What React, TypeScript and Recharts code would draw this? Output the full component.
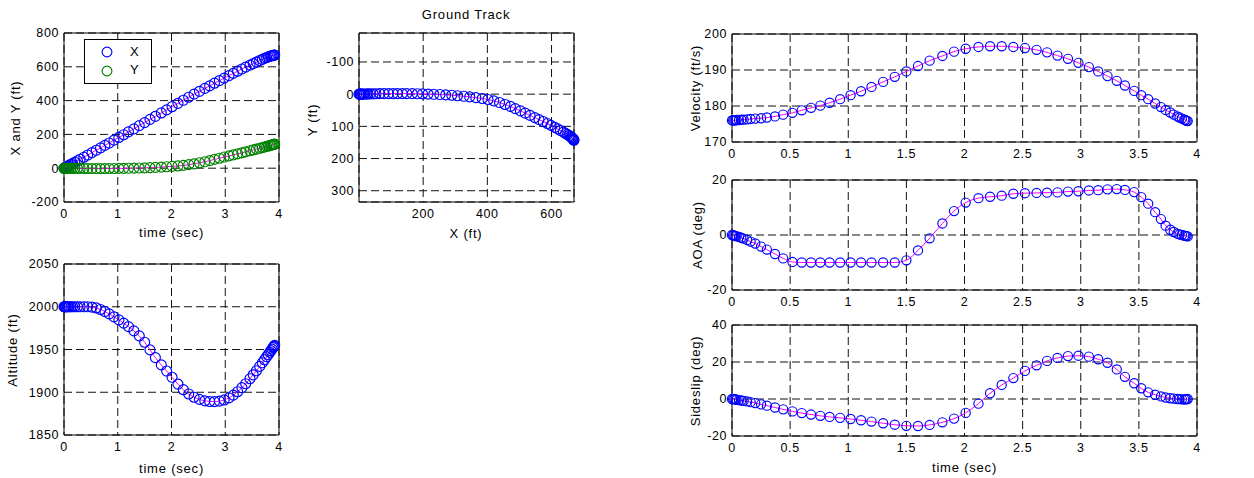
import React from 'react';
import { LineChart, Line, XAxis, YAxis, CartesianGrid, ReferenceArea } from 'recharts';

const TIME = [0, 0.01, 0.02, 0.03, 0.04, 0.06, 0.08, 0.1, 0.13, 0.16, 0.2, 0.25, 0.3, 0.37, 0.44, 0.52, 0.6, 0.68, 0.76, 0.84, 0.93, 1.02, 1.11, 1.2, 1.3, 1.4, 1.5, 1.6, 1.7, 1.81, 1.91, 2.01, 2.12, 2.22, 2.32, 2.42, 2.52, 2.62, 2.71, 2.8, 2.89, 2.98, 3.07, 3.15, 3.23, 3.31, 3.38, 3.46, 3.52, 3.58, 3.64, 3.69, 3.73, 3.77, 3.8, 3.83, 3.85, 3.87, 3.89, 3.9, 3.91, 3.92];

const X_POS = [0, 1.8, 3.5, 5.3, 7, 10.6, 14, 17.6, 23, 28, 35, 44, 53, 65, 78, 92, 106, 120, 135, 149, 166, 182, 198, 215, 233, 252, 270, 289, 307, 327, 345, 364, 384, 402, 420, 438, 455, 472, 487, 503, 518, 533, 548, 561, 574, 587, 598, 610, 619, 628, 637, 644, 650, 655, 659, 662, 664, 666, 667.5, 668.5, 669.3, 670];

const Y_POS = [0, 0, 0, 0, -0.1, -0.2, -0.3, -0.4, -0.5, -0.7, -0.9, -1.1, -1.3, -1.5, -1.7, -1.8, -1.9, -1.9, -1.8, -1.7, -1.5, -1.2, -0.8, -0.3, 0.3, 1.1, 2.1, 3.3, 4.8, 6.6, 8.6, 10.8, 13.4, 16.5, 21, 26, 32, 38, 45, 52, 59, 66, 73, 79, 85, 91, 97, 103, 108, 113, 118, 122, 125.5, 129, 131.5, 134, 136, 138, 140, 141, 142, 143];

const ALTITUDE = [2000, 2000, 2000, 2000, 2000, 2000, 2000, 2000, 2000, 2000, 2000, 2000, 2000, 2000, 2000, 1999.6, 1998.6, 1996.8, 1994.4, 1991.6, 1988.2, 1984.6, 1980.8, 1976.8, 1971.8, 1966, 1958.5, 1949.5, 1940.5, 1932, 1924.8, 1917.5, 1909.5, 1903, 1898, 1894.2, 1891.6, 1890, 1889.2, 1889, 1889.6, 1891, 1893.4, 1896.6, 1900.6, 1905.4, 1910, 1915.8, 1920.4, 1925.2, 1930.2, 1934.5, 1938, 1941.5, 1944.1, 1946.8, 1948.6, 1950.4, 1952.2, 1953.1, 1954, 1954.9];

const VELOCITY = [176, 176, 176, 176, 176.1, 176.1, 176.2, 176.2, 176.3, 176.4, 176.5, 176.6, 176.8, 177.1, 177.6, 178.1, 178.8, 179.5, 180.1, 180.9, 181.9, 183, 184.1, 185.3, 186.7, 188.1, 189.6, 191.1, 192.6, 193.9, 195.1, 195.9, 196.4, 196.6, 196.6, 196.4, 196.1, 195.6, 194.9, 194, 193.1, 192, 190.8, 189.6, 188.3, 187, 185.7, 184.2, 183, 181.9, 180.7, 179.7, 178.9, 178.2, 177.6, 177.1, 176.8, 176.5, 176.2, 176.1, 175.9, 175.8];

const AOA = [0, -0.1, -0.2, -0.3, -0.5, -0.7, -1, -1.3, -1.8, -2.4, -3.1, -4.2, -5.3, -6.9, -8.5, -9.8, -10, -10, -10, -10, -10, -10, -10, -10, -10, -10, -9.2, -5.6, -1.2, 4.2, 8.7, 11.8, 13.4, 13.9, 14.3, 15, 15.2, 15.3, 15.4, 15.5, 15.8, 15.9, 16.2, 16.3, 16.6, 16.7, 16.4, 15.6, 13.8, 11.4, 8.3, 5.8, 3.4, 1.9, 1.1, 0.5, 0.2, 0, -0.2, -0.3, -0.4, -0.5];

const SIDESLIP = [0, 0, -0.1, -0.2, -0.4, -0.6, -0.8, -1, -1.3, -1.7, -2.2, -2.9, -3.6, -4.6, -5.6, -6.7, -7.6, -8.4, -9.1, -9.7, -10.2, -10.8, -11.5, -12.2, -13.1, -13.9, -14.5, -14.6, -14, -12.6, -10.6, -7.5, -2.5, 3.1, 7.6, 11.3, 15.2, 18.2, 20.6, 22.2, 23.2, 23.4, 22.9, 21.5, 19.6, 16, 12, 8.5, 5.8, 3.6, 2.3, 1.4, 0.8, 0.4, 0.2, 0, -0.1, -0.2, -0.2, -0.2, -0.1, 0];

const TICKS_T1 = [0, 1, 2, 3, 4];
const TICKS_T05 = [0, 0.5, 1, 1.5, 2, 2.5, 3, 3.5, 4];
const TICKS_XY = [-200, 0, 200, 400, 600, 800];
const TICKS_GX = [200, 400, 600];
const TICKS_GY = [-100, 0, 100, 200, 300];
const TICKS_ALT = [1850, 1900, 1950, 2000, 2050];
const TICKS_VEL = [170, 180, 190, 200];
const TICKS_AOA = [-20, 0, 20];
const TICKS_SS = [-20, 0, 20, 40];

const rows = TIME.map((t, i) => ({
  t,
  x: X_POS[i],
  y: Y_POS[i],
  alt: ALTITUDE[i],
  vel: VELOCITY[i],
  aoa: AOA[i],
  beta: SIDESLIP[i],
}));

const FONT = '"Liberation Sans", Arial, Helvetica, sans-serif';
const BLUE = '#0000ff';
const GREEN = '#008000';
const MAGENTA = '#ff00ff';

type Box = { x: number; y: number; w: number; h: number };
type Series = { key: string; color: string };

function Panel(props: {
  box: Box;
  xKey: string;
  xDomain: [number, number];
  xTicks: number[];
  yDomain: [number, number];
  yTicks: number[];
  reversed?: boolean;
  series: Series[];
  r: number;
}) {
  const { box, xKey, xDomain, xTicks, yDomain, yTicks, reversed, series, r } = props;
  const ML = 50, MT = 8, MR = 8, MB = 24;
  const tickStyle = { fontSize: 12.5, fill: '#000', fontFamily: FONT, letterSpacing: 0.6 };
  return (
    <div style={{ position: 'absolute', left: box.x - ML, top: box.y - MT }}>
      <LineChart
        width={box.w + ML + MR}
        height={box.h + MT + MB}
        data={rows}
        margin={{ top: MT, right: MR, bottom: 0, left: 0 }}
        style={{ overflow: 'visible' }}
      >
        <CartesianGrid stroke="#111" strokeDasharray="8 4" />
        <XAxis
          type="number"
          dataKey={xKey}
          domain={xDomain}
          ticks={xTicks}
          interval={0}
          axisLine={false}
          tickLine={false}
          tickSize={0}
          tickMargin={7}
          height={MB}
          tick={tickStyle}
        />
        <YAxis
          type="number"
          domain={yDomain}
          ticks={yTicks}
          interval={0}
          reversed={reversed}
          axisLine={false}
          tickLine={false}
          tickSize={0}
          tickMargin={5}
          width={ML}
          tick={tickStyle}
        />
        {series.map((s) => (
          <Line
            key={'c' + s.key}
            dataKey={s.key}
            stroke="none"
            dot={{ r, stroke: s.color, strokeWidth: 1.15, fill: 'none' }}
            activeDot={false}
            isAnimationActive={false}
          />
        ))}
        {series.map((s) => (
          <Line
            key={'l' + s.key}
            dataKey={s.key}
            type="monotone"
            stroke={MAGENTA}
            strokeWidth={1}
            dot={false}
            activeDot={false}
            isAnimationActive={false}
          />
        ))}
        <ReferenceArea
          x1={xDomain[0]}
          x2={xDomain[1]}
          y1={yDomain[0]}
          y2={yDomain[1]}
          fill="none"
          fillOpacity={0}
          stroke="#000"
          strokeWidth={1}
          ifOverflow="visible"
        />
      </LineChart>
    </div>
  );
}

function Txt(props: { x: number; y: number; rot?: number; children: React.ReactNode; size?: number }) {
  return (
    <div
      style={{
        position: 'absolute',
        left: props.x,
        top: props.y,
        transform: `translate(-50%, -50%) rotate(${props.rot || 0}deg)`,
        whiteSpace: 'nowrap',
        fontSize: props.size || 13,
        letterSpacing: 0.8,
        lineHeight: 1,
        fontFamily: FONT,
        color: '#000',
      }}
    >
      {props.children}
    </div>
  );
}

function LegendBox() {
  return (
    <svg style={{ position: 'absolute', left: 84, top: 39 }} width={69} height={46}>
      <rect x={0.5} y={0.5} width={67} height={44} fill="#fff" stroke="#000" strokeWidth={1} />
      <circle cx={23} cy={13} r={4.9} fill="none" stroke={BLUE} strokeWidth={1.15} />
      <text x={46} y={17} fontSize={13} fontFamily={FONT} fill="#000">X</text>
      <circle cx={23} cy={32} r={4.9} fill="none" stroke={GREEN} strokeWidth={1.15} />
      <text x={46} y={35} fontSize={13} fontFamily={FONT} fill="#000">Y</text>
    </svg>
  );
}

export default function App() {
  return (
    <div
      style={{
        position: 'absolute',
        left: 0,
        top: 0,
        width: 1254,
        height: 478,
        background: '#fff',
        overflow: 'hidden',
        fontFamily: FONT,
      }}
    >
      <Panel
        box={{ x: 64, y: 33, w: 215, h: 169 }}
        xKey="t"
        xDomain={[0, 4]}
        xTicks={TICKS_T1}
        yDomain={[-200, 800]}
        yTicks={TICKS_XY}
        series={[{ key: 'x', color: BLUE }, { key: 'y', color: GREEN }]}
        r={5}
      />
      <Panel
        box={{ x: 359, y: 33, w: 215, h: 169 }}
        xKey="x"
        xDomain={[0, 670]}
        xTicks={TICKS_GX}
        yDomain={[-190, 335]}
        yTicks={TICKS_GY}
        reversed
        series={[{ key: 'y', color: BLUE }]}
        r={5}
      />
      <Panel
        box={{ x: 64, y: 264, w: 215, h: 171 }}
        xKey="t"
        xDomain={[0, 4]}
        xTicks={TICKS_T1}
        yDomain={[1850, 2050]}
        yTicks={TICKS_ALT}
        series={[{ key: 'alt', color: BLUE }]}
        r={5}
      />
      <Panel
        box={{ x: 732, y: 34, w: 465, h: 108 }}
        xKey="t"
        xDomain={[0, 4]}
        xTicks={TICKS_T05}
        yDomain={[170, 200]}
        yTicks={TICKS_VEL}
        series={[{ key: 'vel', color: BLUE }]}
        r={4.6}
      />
      <Panel
        box={{ x: 732, y: 180, w: 465, h: 110 }}
        xKey="t"
        xDomain={[0, 4]}
        xTicks={TICKS_T05}
        yDomain={[-20, 20]}
        yTicks={TICKS_AOA}
        series={[{ key: 'aoa', color: BLUE }]}
        r={4.6}
      />
      <Panel
        box={{ x: 732, y: 325, w: 465, h: 111 }}
        xKey="t"
        xDomain={[0, 4]}
        xTicks={TICKS_T05}
        yDomain={[-20, 40]}
        yTicks={TICKS_SS}
        series={[{ key: 'beta', color: BLUE }]}
        r={4.6}
      />
      <LegendBox />
      <Txt x={15} y={117.5} rot={-90}>X and Y (ft)</Txt>
      <Txt x={171.5} y={232}>time (sec)</Txt>
      <Txt x={466} y={14}>Ground Track</Txt>
      <Txt x={312} y={120} rot={-90}>Y (ft)</Txt>
      <Txt x={466} y={233}>X (ft)</Txt>
      <Txt x={12} y={349.5} rot={-90}>Altitude (ft)</Txt>
      <Txt x={171.5} y={468}>time (sec)</Txt>
      <Txt x={695} y={88} rot={-90}>Velocity (ft/s)</Txt>
      <Txt x={697} y={235} rot={-90}>AOA (deg)</Txt>
      <Txt x={695} y={380.5} rot={-90}>Sideslip (deg)</Txt>
      <Txt x={964.5} y={466.7}>time (sec)</Txt>
    </div>
  );
}
